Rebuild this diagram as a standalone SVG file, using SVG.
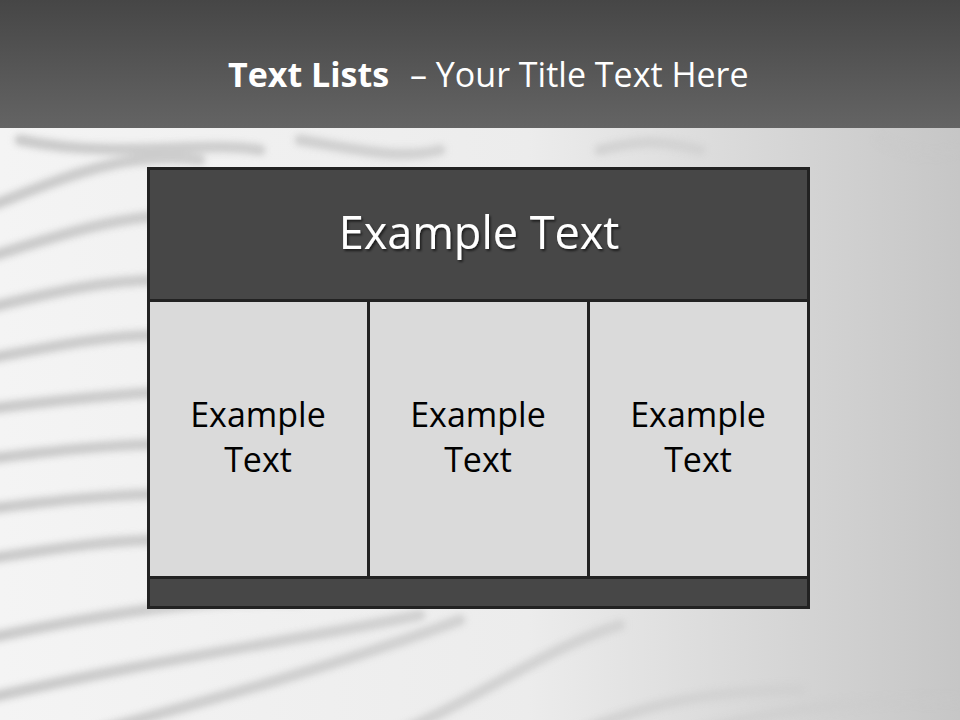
<svg xmlns="http://www.w3.org/2000/svg" width="960" height="720" viewBox="0 0 960 720">
<defs>
<linearGradient id="bg" x1="0" y1="0" x2="1" y2="0">
<stop offset="0" stop-color="#f4f4f4"/>
<stop offset="0.55" stop-color="#ececec"/>
<stop offset="1" stop-color="#c6c6c6"/>
</linearGradient>
<linearGradient id="hdr" x1="0" y1="0" x2="0" y2="1">
<stop offset="0" stop-color="#464646"/>
<stop offset="1" stop-color="#646464"/>
</linearGradient>
<linearGradient id="fade" x1="0" y1="0" x2="1" y2="0">
<stop offset="0" stop-color="#fff" stop-opacity="1"/>
<stop offset="0.6" stop-color="#fff" stop-opacity="0.7"/>
<stop offset="1" stop-color="#fff" stop-opacity="0.1"/>
</linearGradient>
<filter id="blur" x="-10%" y="-10%" width="120%" height="120%"><feGaussianBlur stdDeviation="3"/></filter>
<filter id="sh" x="-10%" y="-20%" width="120%" height="150%"><feDropShadow dx="1.5" dy="2" stdDeviation="1" flood-color="#000" flood-opacity="0.6"/></filter>
<mask id="m"><rect x="0" y="0" width="960" height="720" fill="url(#fade)"/></mask>
<style>
.wave{fill:none;stroke:#c9c9c9;stroke-width:11;stroke-linecap:round}
.dark{fill:#474747;stroke:#222;stroke-width:3}
.cell{fill:#dadada;stroke:#222;stroke-width:3}
.t{font-family:"Open Sans","Noto Sans",sans-serif;text-anchor:middle}
.ts{font-family:"Open Sans","Noto Sans",sans-serif}
</style>
</defs>
<rect width="960" height="720" fill="url(#bg)"/>
<g mask="url(#m)">
<g filter="url(#blur)">
<path class="wave" d="M-20 210 C60 180 120 150 200 160"/>
<path class="wave" d="M-20 260 C60 235 120 215 180 215"/>
<path class="wave" d="M-20 310 C60 290 110 280 160 280"/>
<path class="wave" d="M-20 360 C60 345 110 335 160 335"/>
<path class="wave" d="M-20 410 C60 400 110 395 160 392"/>
<path class="wave" d="M-20 460 C60 450 110 445 160 444"/>
<path class="wave" d="M-20 510 C60 500 110 495 160 494"/>
<path class="wave" d="M-20 560 C60 548 110 540 160 540"/>
<path class="wave" d="M-20 640 C120 610 200 600 300 600"/>
<path class="wave" d="M-20 700 C150 660 300 640 420 615"/>
<path class="wave" d="M100 730 C250 690 380 650 460 620"/>
<path class="wave" d="M380 740 C480 700 540 650 620 625"/>
<path class="wave" d="M560 740 C650 700 720 690 800 690"/>
<path class="wave" d="M700 730 C780 710 850 700 960 700"/>
<path class="wave" d="M20 140 C120 160 200 140 260 150"/>
<path class="wave" d="M300 140 C360 150 400 160 440 150"/>
<path class="wave" d="M600 150 C640 140 660 140 700 150"/>
<path class="wave" d="M880 140 C900 150 920 160 960 150"/>
</g>
</g>
<rect x="0" y="0" width="960" height="128" fill="url(#hdr)"/>
<text class="ts" x="228" y="87" font-size="34" font-weight="bold" fill="#fff">Text Lists</text>
<text class="ts" x="410" y="87" font-size="34" fill="#fff">– Your Title Text Here</text>
<g id="header">
<rect class="dark" x="148.5" y="168.5" width="660" height="132"/>
<text class="t" x="479" y="249" font-size="45" fill="#fff" filter="url(#sh)">Example Text</text>
</g>
<g id="cell1">
<rect class="cell" x="148.5" y="300.5" width="220" height="277"/>
<text class="t" x="258" y="427" font-size="34" fill="#000">Example</text>
<text class="t" x="258" y="472" font-size="34" fill="#000">Text</text>
</g>
<g id="cell2">
<rect class="cell" x="368.5" y="300.5" width="220" height="277"/>
<text class="t" x="478" y="427" font-size="34" fill="#000">Example</text>
<text class="t" x="478" y="472" font-size="34" fill="#000">Text</text>
</g>
<g id="cell3">
<rect class="cell" x="588.5" y="300.5" width="220" height="277"/>
<text class="t" x="698" y="427" font-size="34" fill="#000">Example</text>
<text class="t" x="698" y="472" font-size="34" fill="#000">Text</text>
</g>
<g id="footer">
<rect class="dark" x="148.5" y="577.5" width="660" height="30"/>
</g>
<g id="connectors"/>
</svg>
